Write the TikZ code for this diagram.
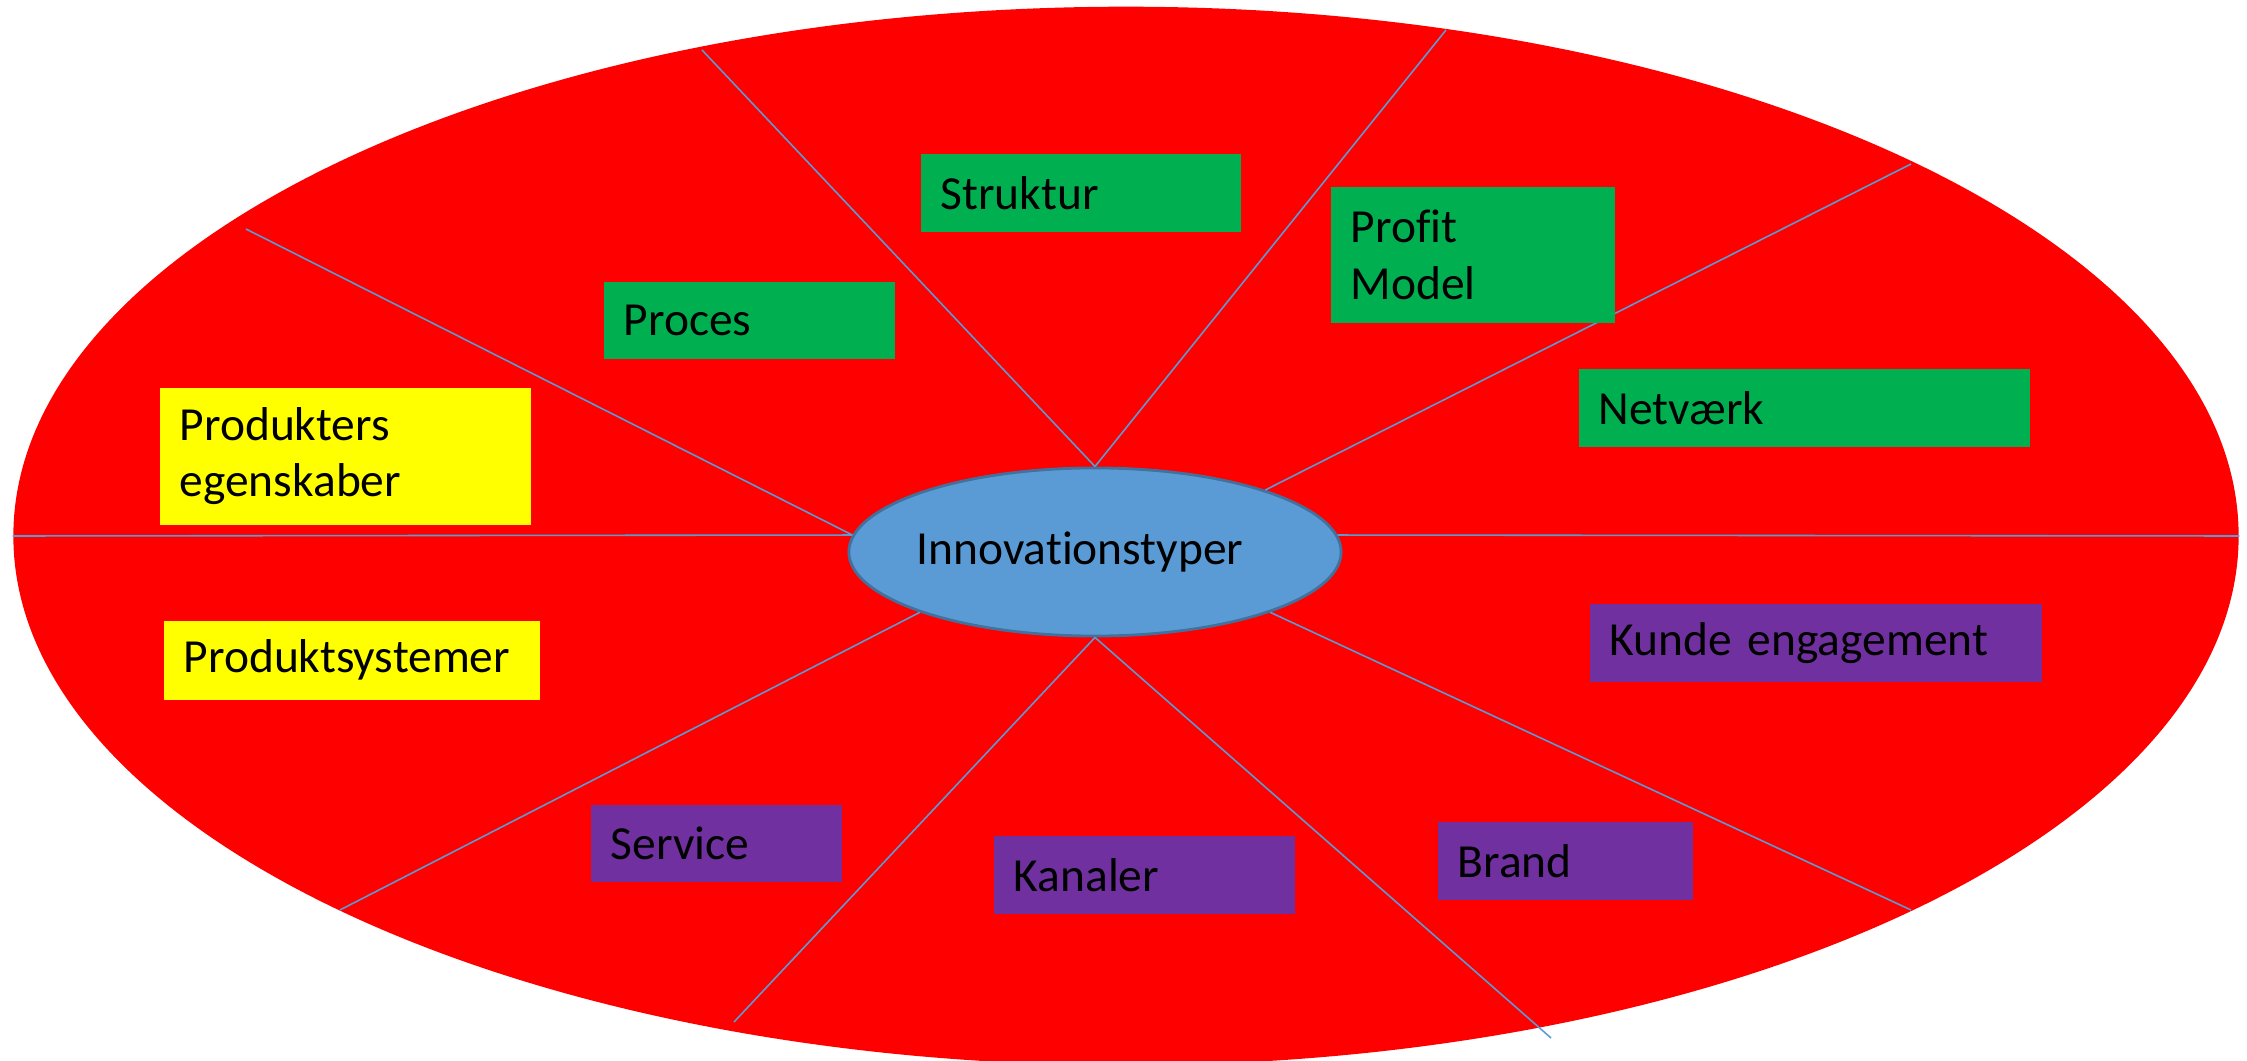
\documentclass[tikz,border=0pt]{standalone}
\usepackage{fontspec}
\setmainfont{Carlito}[Ligatures=CommonOff]
\usepackage{tikz}
\usetikzlibrary{shapes.geometric}
\definecolor{fieldRed}{RGB}{255,0,0}
\definecolor{boxGreen}{RGB}{0,176,80}
\definecolor{boxYellow}{RGB}{255,255,0}
\definecolor{boxPurple}{RGB}{112,48,160}
\definecolor{hubBlue}{RGB}{91,155,213}
\definecolor{hubEdge}{RGB}{65,113,156}
\tikzset{
    x=0.01cm, y=-0.01cm, % one unit is one pixel of the original, y runs downwards
    every node/.style={font=\fontsize{13.5}{16}\selectfont}, % sets the text size of every label
    spoke/.style={draw=hubBlue, line width=0.45pt}, % the thin lines that cut the red field
}

\begin{document}
\begin{tikzpicture}[
                    styleBox/.style={anchor=north west, inner xsep=0.2cm, inner ysep=0pt, align=left},
                    styleGreen/.style={styleBox, fill=boxGreen},
                    styleYellow/.style={styleBox, fill=boxYellow},
                    stylePurple/.style={styleBox, fill=boxPurple},
                ]
                \fill[white] (0,0) rectangle (2247,1061);
                \useasboundingbox (0,0) rectangle (2247,1061);
                \node[ellipse, fill=fieldRed, minimum width=22.24cm, minimum height=10.58cm] (field) at (1126,536) {};
                \node[ellipse, fill=hubBlue, draw=hubEdge, line width=0.8pt, minimum width=4.92cm, minimum height=1.68cm] (hub) at (1095,552) {\hspace*{-0.3cm}Innovationstyper};
                \coordinate (rim1) at (702,50);
                \coordinate (rim2) at (1446,30);
                \coordinate (rim3) at (1911,164);
                \coordinate (rim5) at (1911,910);
                \coordinate (rim6) at (1551,1038);
                \coordinate (rim7) at (734,1022);
                \coordinate (rim8) at (340,910);
                \coordinate (rim10) at (246,229);
                \draw[spoke]
                (hub.north) -- (rim1)
                (hub.north) -- (rim2)
                (hub.20) -- (rim3)
                (hub.4) -- (field.east)
                (hub.341) -- (rim5)
                (hub.south) -- (rim6)
                (hub.south) -- (rim7)
                (hub.199) -- (rim8)
                (hub.176) -- (field.west)
                (hub.176) -- (rim10);
                \node[styleGreen, text width=2.80cm, minimum height=0.78cm] (typStruktur) at (920,153) {Struktur};
                \node[styleGreen, text width=2.51cm, minimum height=0.77cm] (typProces) at (603,281) {Proces};
                \node[styleGreen, text width=2.44cm, minimum height=1.36cm] (typProfit) at (1330,186) {Profit\\Model};
                \node[styleGreen, text width=4.11cm, minimum height=0.78cm] (typNetvaerk) at (1578,368) {Netværk};
                \node[styleYellow, text width=3.31cm, minimum height=1.37cm] (typEgenskaber) at (159,387) {Produkters\\egenskaber};
                \node[styleYellow, text width=3.36cm, minimum height=0.79cm] (typSystemer) at (163,620) {Produktsystemer};
                \node[stylePurple, text width=4.12cm, minimum height=0.78cm] (typKunde) at (1589,603) {Kunde engagement};
                \node[stylePurple, text width=2.11cm, minimum height=0.77cm] (typService) at (590,804) {Service};
                \node[stylePurple, text width=2.61cm, minimum height=0.78cm] (typKanaler) at (993,835) {Kanaler};
                \node[stylePurple, text width=2.15cm, minimum height=0.78cm] (typBrand) at (1437,821) {Brand};
            \end{tikzpicture}
\end{document}
